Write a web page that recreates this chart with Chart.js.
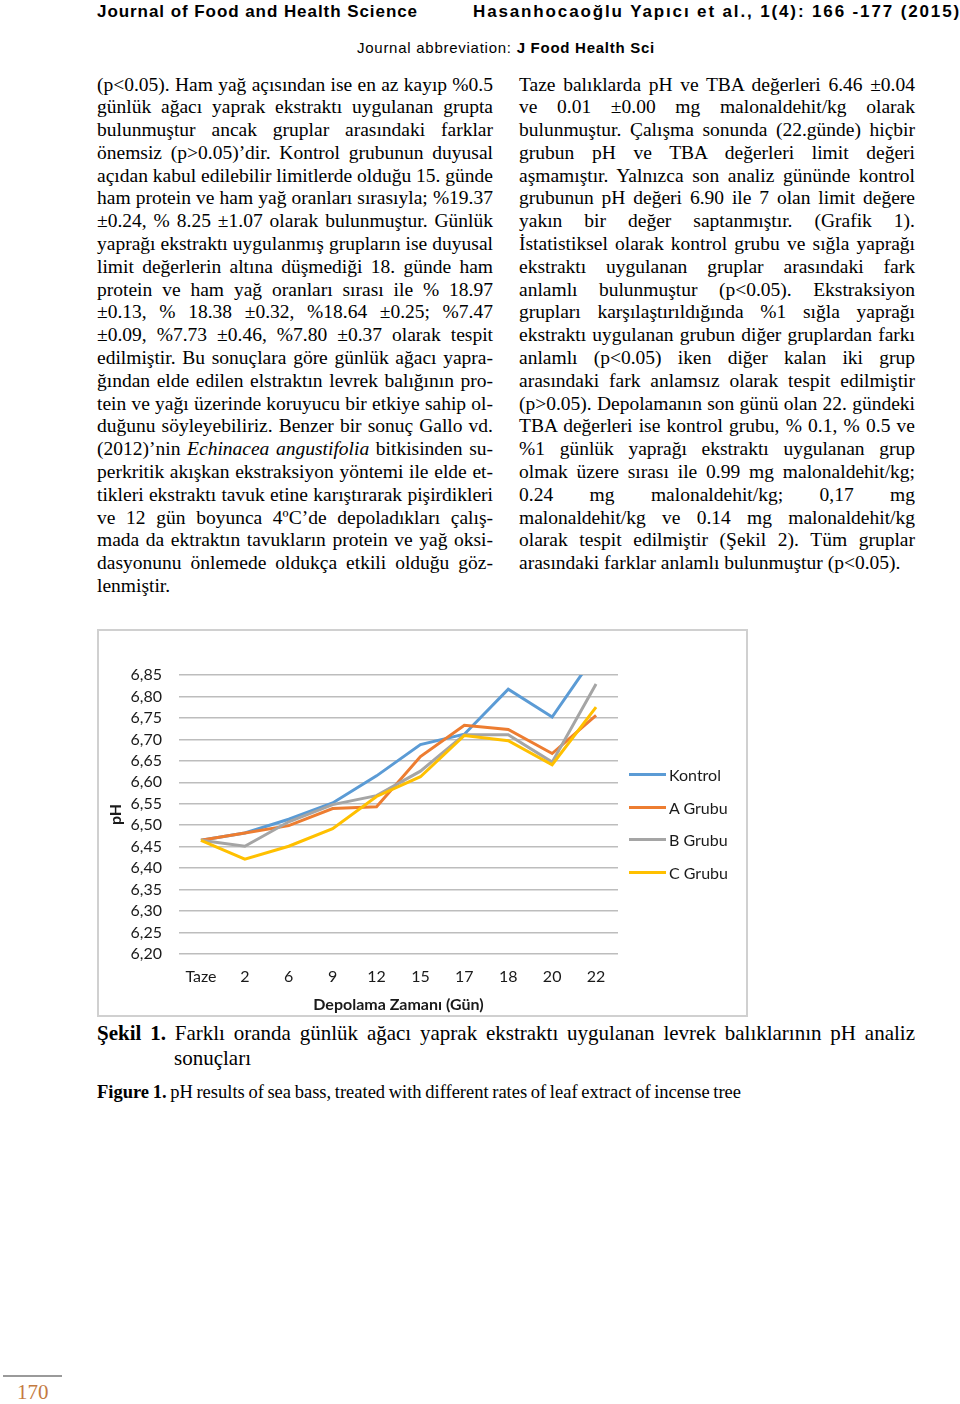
<!DOCTYPE html>
<html lang="tr">
<head>
<meta charset="utf-8">
<title>Şekil 1 - pH analiz sonuçları</title>
<script src="https://cdn.jsdelivr.net/npm/chart.js@4/dist/chart.umd.min.js"></script>
<style>
    body { margin: 0; width: 960px; height: 1404px; position: relative; overflow: hidden; background: #fff; color: #000;
           font-family: "Liberation Serif", "Times New Roman", serif; }
    .abs { position: absolute; white-space: nowrap; }
    .hdr { font-family: "Liberation Sans", Arial, sans-serif; font-weight: bold; font-size: 17px; line-height: 20px; }
    .abbr { font-family: "Liberation Sans", Arial, sans-serif; font-size: 15px; line-height: 18px; }
    .col { position: absolute; top: 73.5px; width: 396px; font-size: 19.5px; line-height: 22.8px; }
    .col div { white-space: nowrap; height: 22.8px; }
    #chartBox { position: absolute; left: 97px; top: 629px; width: 647px; height: 384px; border: 2px solid #d0d0d0; }
    #legend { position: absolute; left: 530px; top: 127px; font-family: Lato, sans-serif; font-size: 16px; color: #1a1a1a; }
    #legend .item { height: 32.7px; display: flex; align-items: center; }
    #legend .line { display: inline-block; width: 37px; height: 3px; margin-right: 3px; }
    .cap { font-size: 21px; line-height: 24px; }
    .fig { font-size: 18.5px; line-height: 20px; }
    #pageNo { left: 17px; top: 1380px; font-size: 21px; line-height: 24px; color: #c47a3f; }
    #pageRule { position: absolute; left: 3px; top: 1375px; width: 59px; height: 2px; background: #9a9a9a; }
</style>
</head>
<body>

<div class="abs hdr" id="hLeft" style="left:97px; top:2px;">Journal of Food and Health Science</div>
<div class="abs hdr" id="hRight" style="left:473px; top:2px;">Hasanhocaoğlu Yapıcı et al., 1(4): 166 -177 (2015)</div>
<div class="abs abbr" id="hAbbr" style="left:357px; top:38.5px;">Journal abbreviation: <b>J Food Health Sci</b></div>

<div class="col" id="colLeft" style="left:97px;"></div>
<div class="col" id="colRight" style="left:519px;"></div>

<div id="chartBox">
    <canvas id="phChart" width="647" height="384"></canvas>
    <div id="legend"></div>
</div>

<div class="abs cap" id="cap1" style="left:97px; top:1021px;"><b>Şekil 1.</b> Farklı oranda günlük ağacı yaprak ekstraktı uygulanan levrek balıklarının pH analiz</div>
<div class="abs cap" style="left:174px; top:1046px;">sonuçları</div>
<div class="abs fig" id="fig1" style="left:97px; top:1082px;"><b>Figure 1.</b> pH results of sea bass, treated with different rates of leaf extract of incense tree</div>

<div id="pageRule"></div>
<div class="abs" id="pageNo">170</div>

<script>
// Grafik verileri
const days = ['Taze', '2', '6', '9', '12', '15', '17', '18', '20', '22'];
const seriesNames = ['Kontrol', 'A Grubu', 'B Grubu', 'C Grubu'];
const kontrol = [6.465, 6.482, 6.514, 6.552, 6.615, 6.688, 6.712, 6.817, 6.752, 6.90];
const grupA = [6.465, 6.482, 6.499, 6.539, 6.543, 6.660, 6.733, 6.723, 6.667, 6.756];
const grupB = [6.465, 6.451, 6.508, 6.548, 6.569, 6.626, 6.711, 6.711, 6.647, 6.829];
const grupC = [6.465, 6.421, 6.451, 6.492, 6.567, 6.613, 6.709, 6.697, 6.641, 6.775];
const seriesColors = ['#5b9bd5', '#ed7d31', '#a5a5a5', '#ffc000'];
const yMin = 6.20;
const yMax = 6.85;
const yStep = 0.05;

// Metin sütunları
const leftLines = [
    '(p&lt;0.05). Ham yağ açısından ise en az kayıp %0.5',
    'günlük ağacı yaprak ekstraktı uygulanan grupta',
    'bulunmuştur ancak gruplar arasındaki farklar',
    'önemsiz (p&gt;0.05)’dir. Kontrol grubunun duyusal',
    'açıdan kabul edilebilir limitlerde olduğu 15. günde',
    'ham protein ve ham yağ oranları sırasıyla; %19.37',
    '±0.24, % 8.25 ±1.07 olarak bulunmuştur. Günlük',
    'yaprağı ekstraktı uygulanmış grupların ise duyusal',
    'limit değerlerin altına düşmediği 18. günde ham',
    'protein ve ham yağ oranları sırası ile % 18.97',
    '±0.13, % 18.38 ±0.32, %18.64 ±0.25; %7.47',
    '±0.09, %7.73 ±0.46, %7.80 ±0.37 olarak tespit',
    'edilmiştir. Bu sonuçlara göre günlük ağacı yapra-',
    'ğından elde edilen elstraktın levrek balığının pro-',
    'tein ve yağı üzerinde koruyucu bir etkiye sahip ol-',
    'duğunu söyleyebiliriz. Benzer bir sonuç Gallo vd.',
    '(2012)’nin <i>Echinacea angustifolia</i> bitkisinden su-',
    'perkritik akışkan ekstraksiyon yöntemi ile elde et-',
    'tikleri ekstraktı tavuk etine karıştırarak pişirdikleri',
    've 12 gün boyunca 4ºC’de depoladıkları çalış-',
    'mada da ektraktın tavukların protein ve yağ oksi-',
    'dasyonunu önlemede oldukça etkili olduğu göz-',
    'lenmiştir.'
];
const rightLines = [
    'Taze balıklarda pH ve TBA değerleri 6.46 ±0.04',
    've 0.01 ±0.00 mg malonaldehit/kg olarak',
    'bulunmuştur. Çalışma sonunda (22.günde) hiçbir',
    'grubun pH ve TBA değerleri limit değeri',
    'aşmamıştır. Yalnızca son analiz gününde kontrol',
    'grubunun pH değeri 6.90 ile 7 olan limit değere',
    'yakın bir değer saptanmıştır. (Grafik 1).',
    'İstatistiksel olarak kontrol grubu ve sığla yaprağı',
    'ekstraktı uygulanan gruplar arasındaki fark',
    'anlamlı bulunmuştur (p&lt;0.05). Ekstraksiyon',
    'grupları karşılaştırıldığında %1 sığla yaprağı',
    'ekstraktı uygulanan grubun diğer gruplardan farkı',
    'anlamlı (p&lt;0.05) iken diğer kalan iki grup',
    'arasındaki fark anlamsız olarak tespit edilmiştir',
    '(p&gt;0.05). Depolamanın son günü olan 22. gündeki',
    'TBA değerleri ise kontrol grubu, % 0.1, % 0.5 ve',
    '%1 günlük yaprağı ekstraktı uygulanan grup',
    'olmak üzere sırası ile 0.99 mg malonaldehit/kg;',
    '0.24 mg malonaldehit/kg; 0,17 mg',
    'malonaldehit/kg ve 0.14 mg malonaldehit/kg',
    'olarak tespit edilmiştir (Şekil 2). Tüm gruplar',
    'arasındaki farklar anlamlı bulunmuştur (p&lt;0.05).'
];

// Satırı verilen genişliğe iki yana yasla
function justify(el, width) {
    const w = el.getBoundingClientRect().width;
    const gaps = (el.textContent.match(/ /g) || []).length;
    const ws = gaps ? (width - w) / gaps : 0;
    if (ws < -2) {
        el.style.wordSpacing = '-2px';
        const w2 = el.getBoundingClientRect().width;
        el.style.display = 'inline-block';
        el.style.transformOrigin = '0 0';
        el.style.transform = 'scaleX(' + (width / w2) + ')';
    } else {
        el.style.wordSpacing = ws + 'px';
    }
}

// Harf aralığı ile genişliğe sığdır (başlıklar)
function fitLetters(el, width) {
    const w = el.getBoundingClientRect().width;
    el.style.letterSpacing = ((width - w) / el.textContent.length) + 'px';
}

function layColumn(id, lines) {
    const col = document.getElementById(id);
    lines.forEach(function(html, i) {
        const row = document.createElement('div');
        const span = document.createElement('span');
        span.innerHTML = html;
        row.appendChild(span);
        col.appendChild(row);
        if (i < lines.length - 1) justify(span, 396);
    });
}

layColumn('colLeft', leftLines);
layColumn('colRight', rightLines);
fitLetters(document.getElementById('hLeft'), 321);
fitLetters(document.getElementById('hRight'), 488);
fitLetters(document.getElementById('hAbbr'), 298);
justify(document.getElementById('cap1'), 818);
justify(document.getElementById('fig1'), 644);

// Lejant (HTML)
function buildLegend() {
    const legend = document.getElementById('legend');
    seriesNames.forEach(function(name, i) {
        const item = document.createElement('div');
        item.className = 'item';
        item.innerHTML = '<span class="line" style="background:' + seriesColors[i] + '"></span>' + name;
        legend.appendChild(item);
    });
}

function createChart() {
    const ctx = document.getElementById('phChart').getContext('2d');
    const values = [kontrol, grupA, grupB, grupC];
    const chart = new Chart(ctx, {
        type: 'line',
        data: {
            labels: days,
            datasets: values.map(function(data, i) {
                return {
                    label: seriesNames[i],
                    data: data,
                    borderColor: seriesColors[i],
                    backgroundColor: seriesColors[i],
                    borderWidth: 3,
                    pointRadius: 0,
                    tension: 0,
                    fill: false,
                    order: values.length - i // C Grubu en üstte
                };
            })
        },
        options: {
            responsive: false,
            animation: false,
            layout: { padding: { top: 44, right: 128, bottom: 0, left: 0 } },
            plugins: {
                legend: { display: false },
                tooltip: { enabled: false }
            },
            scales: {
                x: {
                    offset: true,
                    grid: { display: false, drawTicks: false },
                    border: { display: false },
                    ticks: {
                        padding: 13,
                        color: '#1a1a1a',
                        font: { family: 'Lato', size: 16 },
                        maxRotation: 0,
                        autoSkip: false
                    },
                    title: {
                        display: true,
                        text: 'Depolama Zamanı (Gün)',
                        color: '#1a1a1a',
                        font: { family: 'Lato', size: 16, weight: 'bold' },
                        padding: { top: 0, bottom: 1 }
                    },
                    afterFit: function(scale) { scale.height = 61; }
                },
                y: {
                    min: yMin,
                    max: yMax,
                    grid: { color: '#bdbdbd', lineWidth: 1.5, drawTicks: false },
                    border: { display: false },
                    ticks: {
                        stepSize: yStep,
                        maxTicksLimit: 20,
                        autoSkip: false,
                        padding: 17,
                        color: '#1a1a1a',
                        font: { family: 'Lato', size: 16 },
                        callback: function(value) { return value.toFixed(2).replace('.', ','); }
                    },
                    title: {
                        display: true,
                        text: 'pH',
                        color: '#1a1a1a',
                        font: { family: 'Lato', size: 16, weight: 'bold' },
                        padding: { top: 7, bottom: 0 }
                    },
                    afterFit: function(scale) { scale.width = 80; }
                }
            }
        }
    });
    return chart;
}

buildLegend();
createChart();
</script>
</body>
</html>
